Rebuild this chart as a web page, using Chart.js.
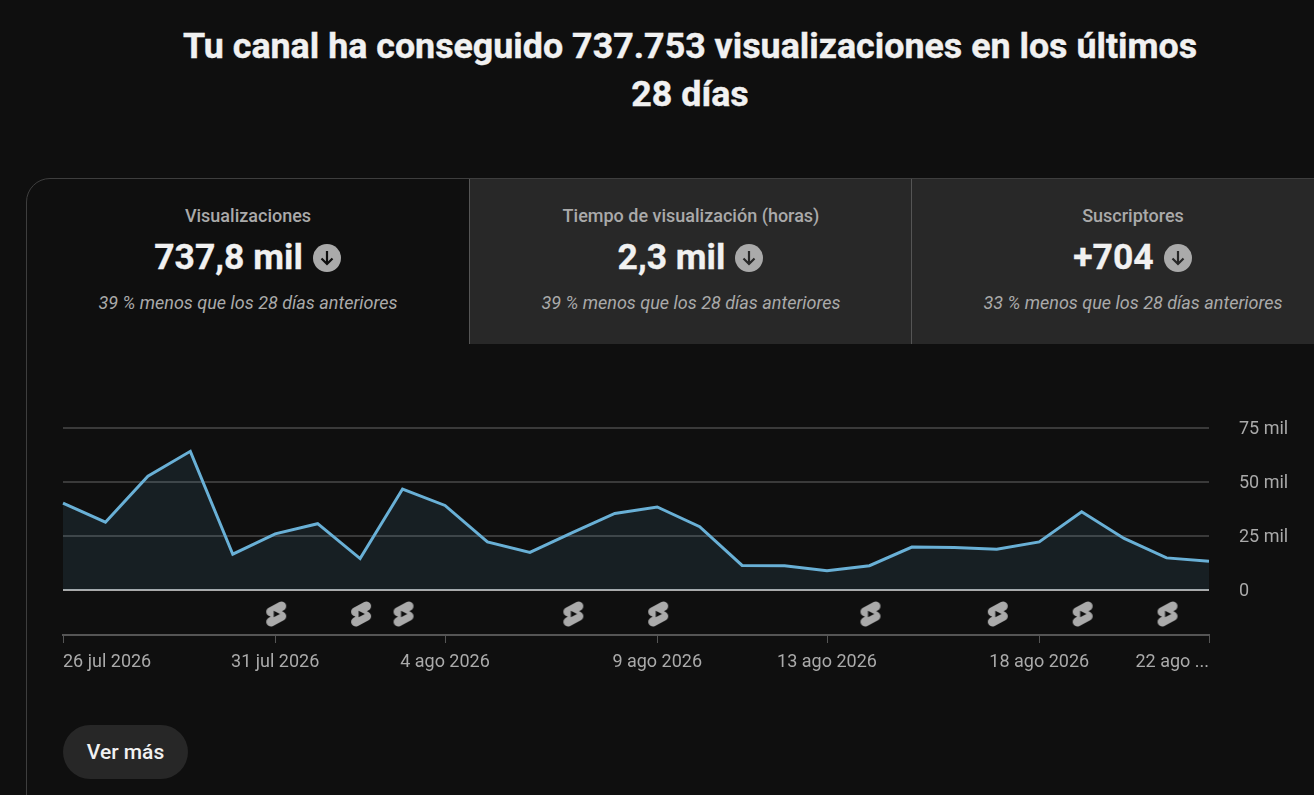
<!DOCTYPE html>
<html lang="es">
<head>
<meta charset="utf-8">
<title>Visualizaciones</title>
<script src="https://cdn.jsdelivr.net/npm/chart.js@4"></script>
<style>
html, body { margin: 0; height: 100%; overflow: hidden; background: #0f0f0f; font-family: Roboto, sans-serif; }
h1 { position: absolute; left: 0; top: 22px; width: 1380px; margin: 0; text-align: center; color: #f1f1f1; font-size: 35.8px; line-height: 48px; font-weight: 700; -webkit-text-stroke: 0.4px #f1f1f1; }
#card { position: absolute; left: 26px; top: 178px; width: 1400px; height: 700px; box-sizing: border-box; border: 1px solid #3e3e3e; border-top-left-radius: 24px; }
.tab { position: absolute; top: 179px; height: 165px; text-align: center; box-sizing: border-box; }
.tab.off { background: #282828; border-left: 1px solid #555; }
.tab .name { position: absolute; left: 0; right: 0; top: 27px; font-size: 18px; line-height: 20px; font-weight: 500; color: #aaa; }
.tab .val { position: absolute; left: -2px; right: 0; top: 56px; font-size: 35.5px; line-height: 44px; font-weight: 700; color: #f1f1f1; -webkit-text-stroke: 0.3px #f1f1f1; }
.tab .val svg { width: 28px; height: 28px; vertical-align: -3px; margin-left: 10px; margin-right: -1px; }
.tab .sub { position: absolute; left: 0; right: 0; top: 114px; font-size: 18px; line-height: 20px; font-style: italic; color: #aaa; }
#box { position: absolute; left: 0; top: 400px; width: 1314px; height: 290px; }
#more { position: absolute; left: 63px; top: 725px; width: 125px; height: 54px; border-radius: 27px; background: #272727; color: #f1f1f1; font-size: 21px; font-weight: 500; line-height: 54px; text-align: center; }
</style>
</head>
<body>
<h1>Tu canal ha conseguido 737.753 visualizaciones en los últimos<br>28 días</h1>
<div id="card"></div>
<div class="tab" style="left:27px;width:442px">
  <div class="name">Visualizaciones</div>
  <div class="val">737,8 mil<svg viewBox="0 0 28 28"><circle cx="14" cy="14" r="14" fill="#aaa"/><path d="M14 7v13M8.5 14.5l5.5 5.5 5.5-5.5" fill="none" stroke="#0f0f0f" stroke-width="2.2"/></svg></div>
  <div class="sub">39 % menos que los 28 días anteriores</div>
</div>
<div class="tab off" style="left:469px;width:443px">
  <div class="name">Tiempo de visualización (horas)</div>
  <div class="val">2,3 mil<svg viewBox="0 0 28 28"><circle cx="14" cy="14" r="14" fill="#aaa"/><path d="M14 7v13M8.5 14.5l5.5 5.5 5.5-5.5" fill="none" stroke="#282828" stroke-width="2.2"/></svg></div>
  <div class="sub">39 % menos que los 28 días anteriores</div>
</div>
<div class="tab off" style="left:911px;width:443px">
  <div class="name">Suscriptores</div>
  <div class="val">+704<svg viewBox="0 0 28 28"><circle cx="14" cy="14" r="14" fill="#aaa"/><path d="M14 7v13M8.5 14.5l5.5 5.5 5.5-5.5" fill="none" stroke="#282828" stroke-width="2.2"/></svg></div>
  <div class="sub">33 % menos que los 28 días anteriores</div>
</div>
<div id="box"><canvas id="viewsChart"></canvas></div>
<div id="more">Ver más</div>
<script>
const days = ['26 jul', '27 jul', '28 jul', '29 jul', '30 jul', '31 jul', '1 ago', '2 ago', '3 ago', '4 ago',
  '5 ago', '6 ago', '7 ago', '8 ago', '9 ago', '10 ago', '11 ago', '12 ago', '13 ago', '14 ago',
  '15 ago', '16 ago', '17 ago', '18 ago', '19 ago', '20 ago', '21 ago', '22 ago'];
const views = [40.1, 31.3, 52.5, 64.0, 16.5, 25.9, 30.6, 14.5, 46.6, 39.0,
  22.2, 17.3, 26.5, 35.3, 38.3, 29.2, 11.3, 11.2, 8.9, 11.2,
  19.8, 19.6, 18.8, 22.2, 36.1, 23.8, 14.8, 13.3];
// days with a Short published
const shortDays = ['31 jul', '2 ago', '3 ago', '7 ago', '9 ago', '14 ago', '17 ago', '19 ago', '21 ago'];
const shortRow = -11.1;
const tickDays = ['26 jul', '31 jul', '4 ago', '9 ago', '13 ago', '18 ago', '22 ago'];
const tickLabels = ['26 jul 2026', '31 jul 2026', '4 ago 2026', '9 ago 2026', '13 ago 2026', '18 ago 2026', '22 ago ...'];
const yTicks = [0, 25, 50, 75];
const yLabels = ['0', '25 mil', '50 mil', '75 mil'];

// shorts logo used as the point style
const shortIcon = document.createElement('canvas');
shortIcon.width = 32;
shortIcon.height = 32;
const ic = shortIcon.getContext('2d');
ic.translate(2, 1);
ic.scale(1.25, 1.25);
ic.fillStyle = '#aaaaaa';
ic.fill(new Path2D('M17.77 10.32c-.77-.32-1.2-.5-1.2-.5L18 9.06c1.84-.96 2.53-3.23 1.56-5.06s-3.24-2.53-5.07-1.56L6 6.94c-1.29.68-2.07 2.04-2 3.49.07 1.42.93 2.67 2.22 3.25.03.01 1.2.5 1.2.5L6 14.93c-1.83.97-2.53 3.24-1.56 5.07.97 1.83 3.24 2.53 5.07 1.56l8.5-4.5c1.29-.68 2.06-2.04 1.99-3.49-.07-1.42-.94-2.68-2.23-3.25zM10 14.65v-5.3L15 12l-5 2.65z'), 'evenodd');

new Chart(document.getElementById('viewsChart'), {
  type: 'line',
  data: {
    labels: days,
    datasets: [{
      data: views,
      borderColor: '#69b0d6',
      borderWidth: 3,
      backgroundColor: 'rgba(101, 174, 212, 0.1)',
      fill: 'origin',
      tension: 0,
      pointRadius: 0
    }, {
      data: shortDays.map(d => ({ x: d, y: shortRow })),
      showLine: false,
      pointStyle: shortIcon,
      pointRadius: 12
    }]
  },
  options: {
    responsive: true,
    maintainAspectRatio: false,
    animation: false,
    layout: { autoPadding: false, padding: { left: 63, top: 27.5 } },
    plugins: { legend: { display: false }, tooltip: { enabled: false } },
    scales: {
      x: {
        type: 'category',
        afterBuildTicks: s => { s.ticks = tickDays.map(d => ({ value: days.indexOf(d) })); },
        afterFit: s => { s.height = 55; },
        border: { color: '#555', width: 2 },
        grid: { drawOnChartArea: false, tickColor: '#555', tickLength: 8, tickWidth: 1 },
        ticks: {
          color: '#aaa',
          font: { family: 'Roboto', size: 18 },
          autoSkip: false,
          maxRotation: 0,
          align: 'inner',
          padding: 9,
          callback: v => tickLabels[tickDays.indexOf(days[v])]
        }
      },
      y: {
        position: 'right',
        min: -20.8,
        max: 75,
        afterBuildTicks: s => { s.ticks = yTicks.map(v => ({ value: v })); },
        // ticks.padding also pads the top of the axis, which would push the plot down
        afterFit: s => { s.width = 105; s.paddingTop = 0; s.paddingBottom = 0; },
        border: { display: false },
        grid: {
          drawTicks: false,
          color: c => c.tick && c.tick.value === 0 ? '#aaa' : '#3a3a3a',
          lineWidth: 2
        },
        ticks: {
          color: '#aaa',
          font: { family: 'Roboto', size: 18 },
          padding: 30,
          labelOffset: 2,
          callback: v => yLabels[yTicks.indexOf(v)]
        }
      }
    }
  }
});
</script>
</body>
</html>
